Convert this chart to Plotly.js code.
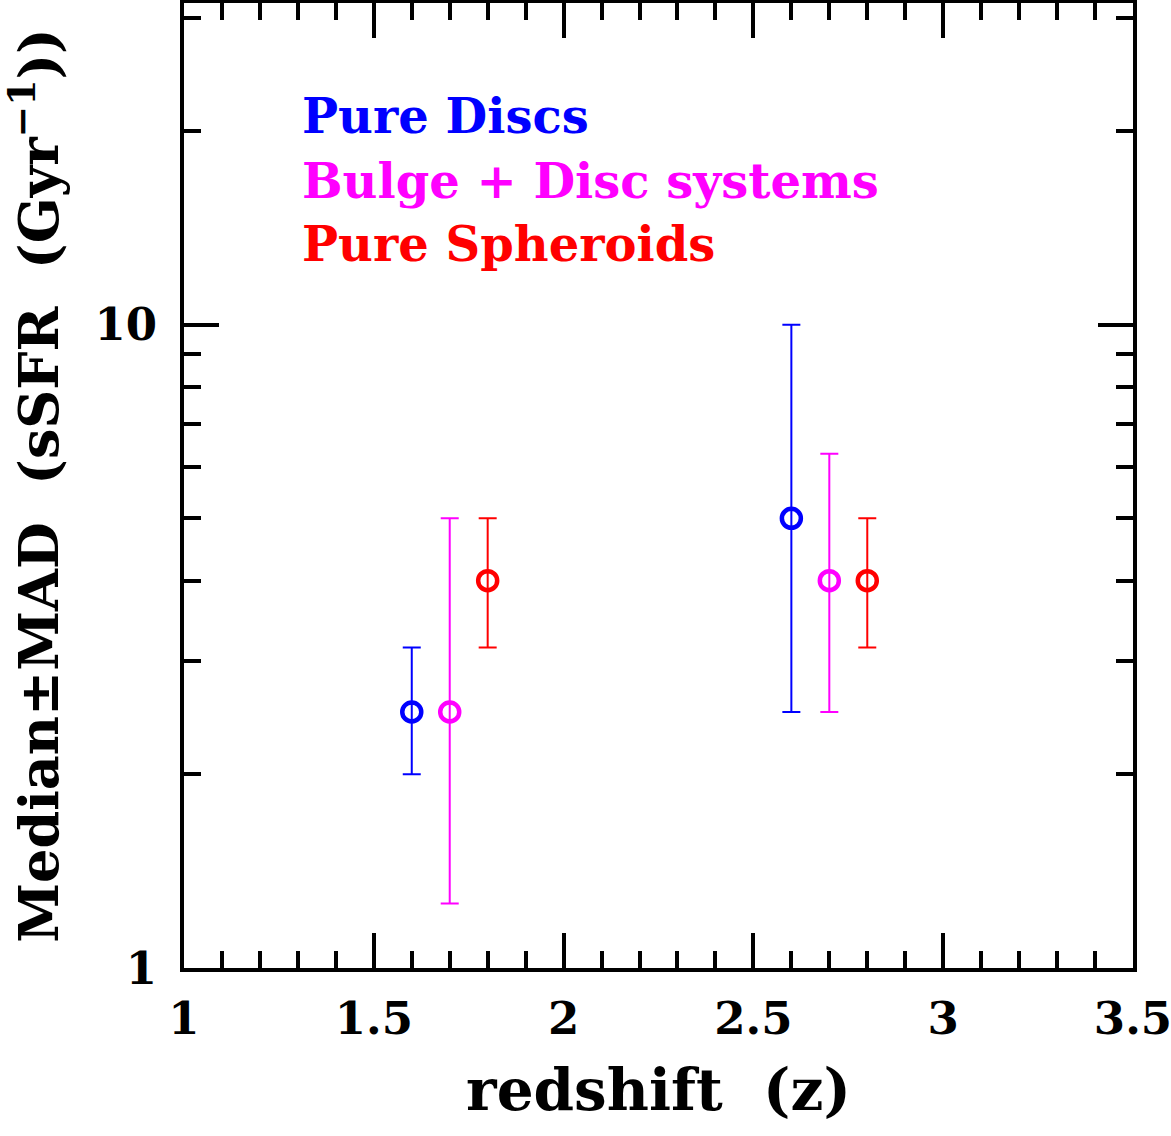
<!DOCTYPE html>
<html>
<head>
<meta charset="utf-8">
<script src="https://cdn.plot.ly/plotly-3.0.1.min.js"></script>
<style>html,body{margin:0;padding:0;background:#fff;}#chart{width:1171px;height:1136px;}</style>
</head>
<body>
<div id="chart"></div>
<script>
// Data
const seriesNames = ["Pure Discs", "Bulge + Disc systems", "Pure Spheroids"];
const seriesColors = ["#0000ff", "#ff00ff", "#ff0000"];

const discZ = [1.6, 2.6];
const discMedian = [2.5, 5.0];
const discHigh = [3.15, 10.0];
const discLow = [2.0, 2.5];

const bulgeZ = [1.7, 2.7];
const bulgeMedian = [2.5, 4.0];
const bulgeHigh = [5.0, 6.3];
const bulgeLow = [1.26, 2.5];

const sphZ = [1.8, 2.8];
const sphMedian = [4.0, 4.0];
const sphHigh = [5.0, 5.0];
const sphLow = [3.15, 3.15];

const xTickVals = [1, 1.5, 2, 2.5, 3, 3.5];
const xTickText = ["1", "1.5", "2", "2.5", "3", "3.5"];
const xMinorVals = [1.1,1.2,1.3,1.4,1.6,1.7,1.8,1.9,2.1,2.2,2.3,2.4,2.6,2.7,2.8,2.9,3.1,3.2,3.3,3.4];
const yTickVals = [1, 10];
const yTickText = ["1", "10"];
const yMinorVals = [2,3,4,5,6,7,8,9,20,30];

const xTitle = "redshift\u00A0 (z)";
const yTitle = "Median±MAD\u00A0 (sSFR\u00A0 (Gyr<sup>−1</sup>))";

const FONT = "DejaVu Serif";

function makeTrace(x, y, hi, lo, color, name) {
  return {
    type: "scatter", mode: "markers", name: name,
    x: x, y: y,
    marker: {symbol: "circle-open", size: 19, color: color, line: {width: 4.5, color: color}},
    error_y: {
      type: "data", symmetric: false,
      array: y.map((v, i) => hi[i] - v),
      arrayminus: y.map((v, i) => v - lo[i]),
      color: color, thickness: 2, width: 9
    },
    cliponaxis: false,
    showlegend: false
  };
}

const traces = [
  makeTrace(discZ, discMedian, discHigh, discLow, seriesColors[0], seriesNames[0]),
  makeTrace(bulgeZ, bulgeMedian, bulgeHigh, bulgeLow, seriesColors[1], seriesNames[1]),
  makeTrace(sphZ, sphMedian, sphHigh, sphLow, seriesColors[2], seriesNames[2])
];

const legendY = [0.883, 0.8155, 0.750];
const annotations = seriesNames.map((n, i) => ({
  xref: "paper", yref: "paper", x: 0.1222, y: legendY[i],
  xanchor: "left", yanchor: "middle", showarrow: false,
  text: n, font: {family: FONT, size: 48, weight: "bold", color: seriesColors[i]}
}));

const layout = {
  width: 1171, height: 1136,
  margin: {l: 184, r: 38, t: 3, b: 168, pad: 0},
  paper_bgcolor: "#fff", plot_bgcolor: "#fff",
  showlegend: false,
  font: {family: FONT, color: "#000"},
  xaxis: {
    range: [1, 3.5], showgrid: false, zeroline: false,
    showline: true, linewidth: 4, linecolor: "#000", mirror: "allticks",
    ticks: "inside", ticklen: 35, tickwidth: 4, tickcolor: "#000",
    tickmode: "array", tickvals: xTickVals, ticktext: xTickText,
    tickfont: {family: FONT, size: 45, weight: "bold", color: "#000"},
    ticklabelstandoff: 8, ticklabeloverflow: "allow",
    minor: {tickmode: "array", tickvals: xMinorVals, ticks: "inside", ticklen: 17, tickwidth: 4, tickcolor: "#000", showgrid: false},
    title: {text: xTitle, font: {family: FONT, size: 58, weight: "bold", color: "#000"}, standoff: 26},
    automargin: false
  },
  yaxis: {
    type: "log", range: [0, 1.5], showgrid: false, zeroline: false,
    showline: true, linewidth: 4, linecolor: "#000", mirror: "allticks",
    ticks: "inside", ticklen: 35, tickwidth: 4, tickcolor: "#000",
    tickmode: "array", tickvals: yTickVals, ticktext: yTickText,
    tickfont: {family: FONT, size: 45, weight: "bold", color: "#000"},
    ticklabelstandoff: 14, ticklabeloverflow: "allow",
    minor: {tickmode: "array", tickvals: yMinorVals, ticks: "inside", ticklen: 17, tickwidth: 4, tickcolor: "#000", showgrid: false},
    title: {text: yTitle, font: {family: FONT, size: 54, weight: "bold", color: "#000"}, standoff: 28},
    automargin: false
  },
  annotations: annotations
};

Plotly.newPlot("chart", traces, layout, {displayModeBar: false, staticPlot: true});
</script>
</body>
</html>
